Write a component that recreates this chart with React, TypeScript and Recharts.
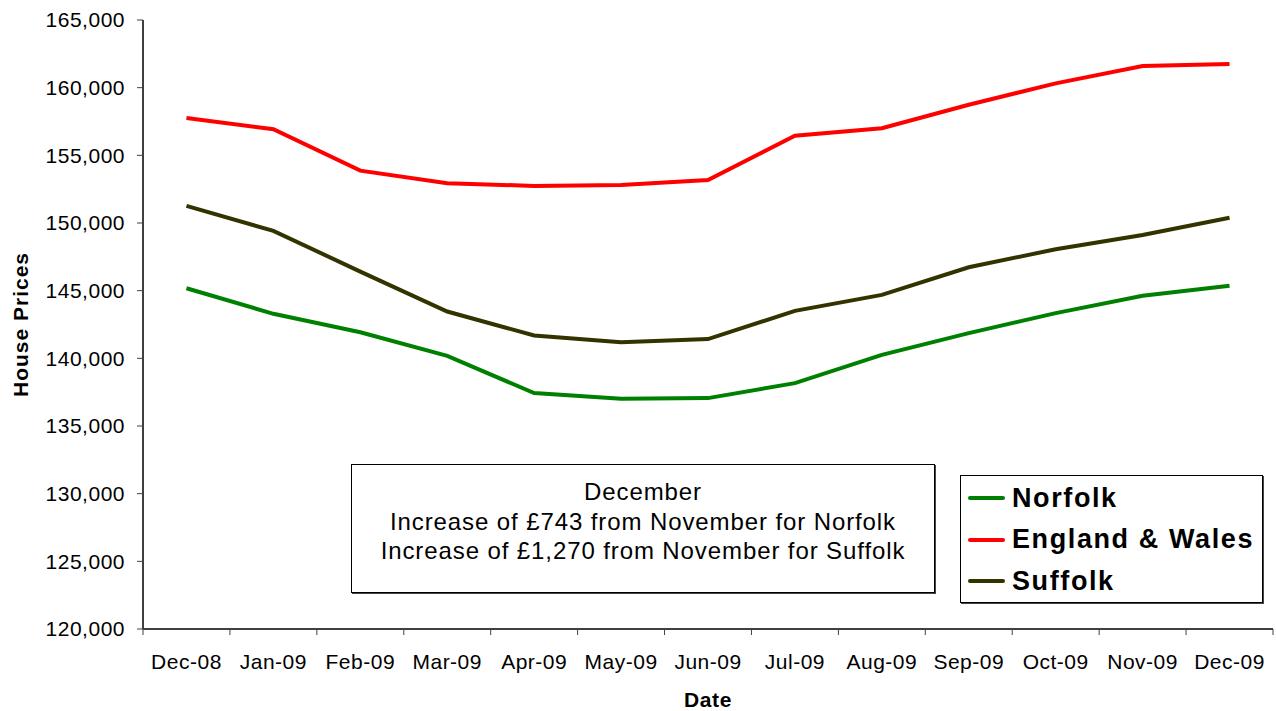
import React from 'react';
import { LineChart, Line, XAxis, YAxis } from 'recharts';

const months = ['Dec-08', 'Jan-09', 'Feb-09', 'Mar-09', 'Apr-09', 'May-09', 'Jun-09', 'Jul-09', 'Aug-09', 'Sep-09', 'Oct-09', 'Nov-09', 'Dec-09'];
const norfolk = [145180, 143290, 141930, 140180, 137430, 137010, 137060, 138170, 140260, 141860, 143340, 144620, 145363];
const englandWales = [157760, 156930, 153870, 152940, 152740, 152810, 153180, 156450, 157000, 158740, 160320, 161600, 161750];
const suffolk = [151260, 149420, 146410, 143460, 141690, 141190, 141420, 143510, 144690, 146730, 148060, 149120, 150390];
const yTicks = [120000, 125000, 130000, 135000, 140000, 145000, 150000, 155000, 160000, 165000];
const noteLines = ['December', 'Increase of £743 from November for Norfolk', 'Increase of £1,270 from November for Suffolk'];
const seriesInfo = [
  { key: 'norfolk', name: 'Norfolk', color: '#008000' },
  { key: 'englandWales', name: 'England & Wales', color: '#FF0000' },
  { key: 'suffolk', name: 'Suffolk', color: '#333300' },
];

const data = months.map((m, i) => ({
  month: m,
  norfolk: norfolk[i],
  englandWales: englandWales[i],
  suffolk: suffolk[i],
}));

const W = 1276;
const H = 711;
const MARGIN = { top: 20, right: 3, bottom: 0, left: 0 };
const Y_AXIS_W = 143;
const X_AXIS_H = 82;
const PLOT_W = W - MARGIN.left - MARGIN.right - Y_AXIS_W;
const HALF_BAND = PLOT_W / (2 * months.length);
const FONT = '"Liberation Sans", Arial, Helvetica, sans-serif';
const AXIS_COLOR = '#404040';

const XTick = (props: any) => {
  const { x, y, payload, index } = props;
  const lineY = y - 8;
  const last = index === months.length - 1;
  return (
    <g>
      <line x1={x - HALF_BAND} x2={x - HALF_BAND} y1={lineY} y2={lineY + 6} stroke={AXIS_COLOR} strokeWidth={1} />
      {last && <line x1={x + HALF_BAND} x2={x + HALF_BAND} y1={lineY} y2={lineY + 6} stroke={AXIS_COLOR} strokeWidth={1} />}
      <text x={x} y={lineY + 40} textAnchor="middle" fontFamily={FONT} fontSize={21} letterSpacing={0.5} fill="#000">
        {payload.value}
      </text>
    </g>
  );
};

const YTitle = (props: any) => {
  const vb = props.viewBox || {};
  const cx = 20;
  const cy = vb.y + vb.height / 2;
  return (
    <text x={cx} y={cy} transform={`rotate(-90, ${cx}, ${cy})`} textAnchor="middle" dominantBaseline="central" fontFamily={FONT} fontSize={21} fontWeight="bold" letterSpacing={1} fill="#000">
      House Prices
    </text>
  );
};

const XTitle = (props: any) => {
  const vb = props.viewBox || {};
  const cx = vb.x + vb.width / 2;
  return (
    <text x={cx} y={707} textAnchor="middle" fontFamily={FONT} fontSize={21} fontWeight="bold" letterSpacing={0.6} fill="#000">
      Date
    </text>
  );
};

export default function App() {
  return (
    <div style={{ position: 'absolute', left: 0, top: 0, width: W, height: H, background: '#fff', fontFamily: FONT }}>
      <LineChart width={W} height={H} data={data} margin={MARGIN}>
        <XAxis
          dataKey="month"
          height={X_AXIS_H}
          padding={{ left: HALF_BAND, right: HALF_BAND }}
          interval={0}
          tickSize={6}
          tickMargin={2}
          tickLine={false}
          axisLine={{ stroke: AXIS_COLOR, strokeWidth: 2 }}
          tick={<XTick />}
          label={<XTitle />}
        />
        <XAxis
          xAxisId="top"
          dataKey="month"
          orientation="top"
          height={0}
          tick={false}
          tickLine={false}
          axisLine={{ stroke: '#909090', strokeWidth: 1.5 }}
        />
        <YAxis
          width={Y_AXIS_W}
          domain={[120000, 165000]}
          ticks={yTicks}
          interval={0}
          tickSize={6}
          tickMargin={12}
          tickFormatter={(v: number) => v.toLocaleString('en-US')}
          tick={{ fontFamily: FONT, fontSize: 21, letterSpacing: 0.5, fill: '#000' }}
          tickLine={{ stroke: AXIS_COLOR }}
          axisLine={{ stroke: AXIS_COLOR, strokeWidth: 2 }}
          label={<YTitle />}
        />
        <YAxis
          yAxisId="right"
          orientation="right"
          width={0}
          domain={[120000, 165000]}
          tick={false}
          tickLine={false}
          axisLine={{ stroke: '#909090', strokeWidth: 1.5 }}
        />
        {seriesInfo.map((s) => (
          <Line
            key={s.key}
            type="linear"
            dataKey={s.key}
            name={s.name}
            stroke={s.color}
            strokeWidth={4}
            dot={false}
            activeDot={false}
            isAnimationActive={false}
          />
        ))}
      </LineChart>

      <div
        style={{
          position: 'absolute',
          left: 351,
          top: 464,
          width: 582,
          height: 115,
          border: '1.5px solid #000',
          boxSizing: 'content-box',
          background: '#fff',
          textAlign: 'center',
          fontSize: 24,
          letterSpacing: 0.9,
          lineHeight: '29.5px',
          paddingTop: 12,
          boxShadow: '1px 1px 0 #444',
        }}
      >
        {noteLines.map((l) => (
          <div key={l} style={{ whiteSpace: 'nowrap' }}>{l}</div>
        ))}
      </div>

      <div
        style={{
          position: 'absolute',
          left: 960,
          top: 475,
          width: 301,
          height: 126,
          border: '1px solid #000',
          background: '#fff',
          boxShadow: '1px 1px 0 #444',
        }}
      >
        {seriesInfo.map((s, i) => (
          <div
            key={s.key}
            style={{
              position: 'absolute',
              left: 0,
              top: 22 + i * 41.7 - 20,
              height: 40,
              display: 'flex',
              alignItems: 'center',
              whiteSpace: 'nowrap',
            }}
          >
            <div style={{ width: 37, height: 4, background: s.color, marginLeft: 7, marginRight: 7, borderRadius: 2 }} />
            <span style={{ fontSize: 27, fontWeight: 'bold', letterSpacing: 1.6, color: '#000' }}>{s.name}</span>
          </div>
        ))}
      </div>
    </div>
  );
}
